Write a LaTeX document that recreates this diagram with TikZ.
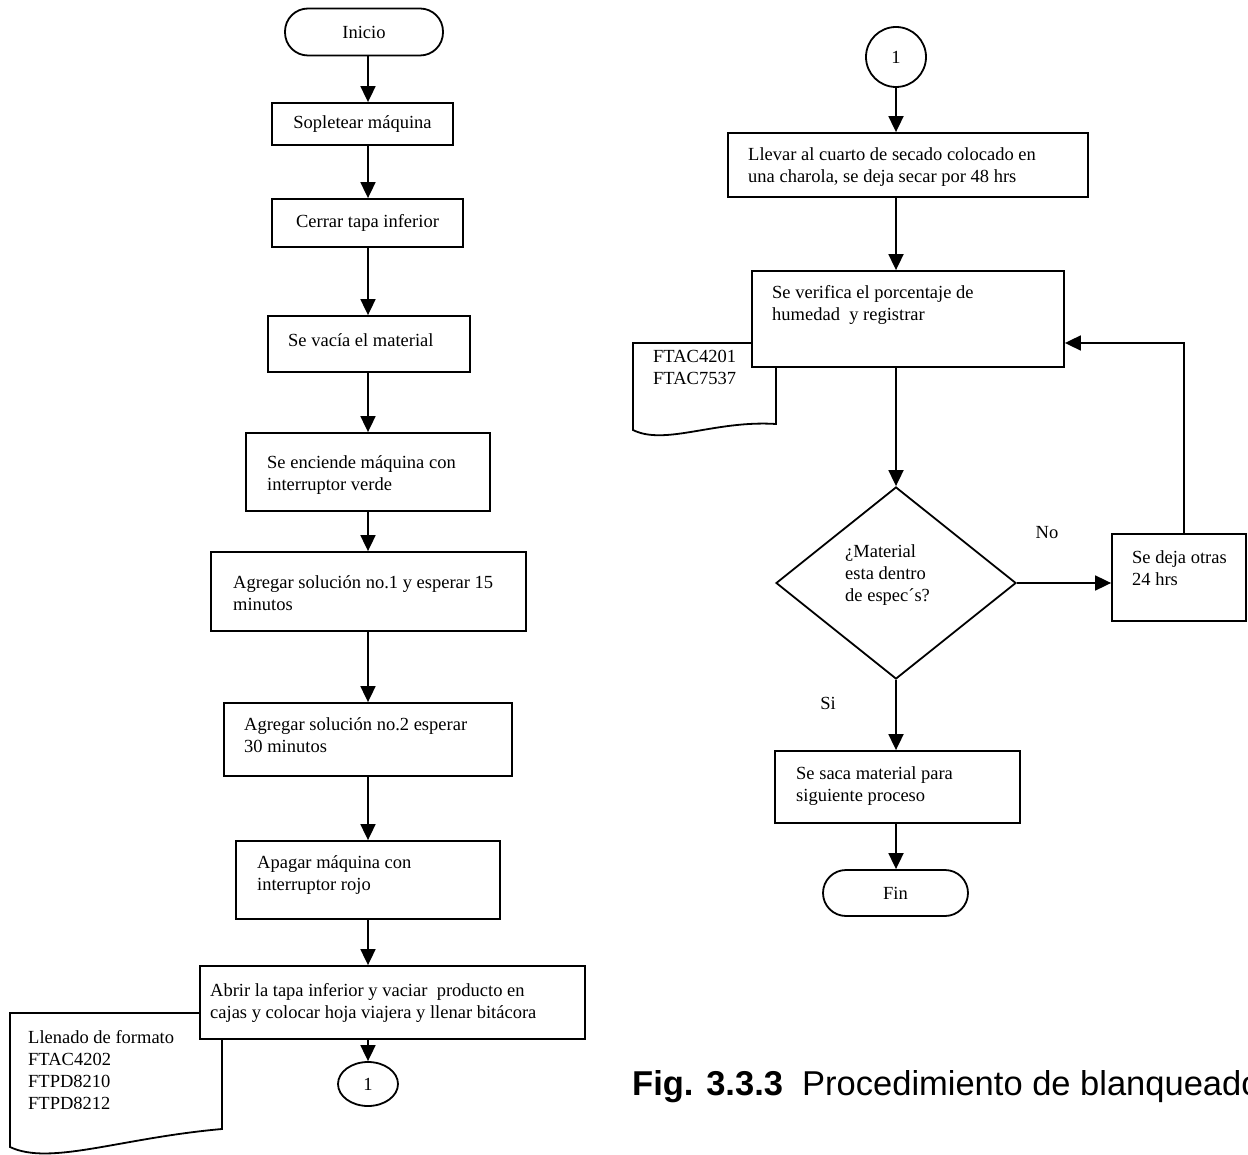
\documentclass[tikz,border=0pt]{standalone}
\usepackage{fontspec}
\setmainfont{Liberation Serif}
\newfontfamily\capfont{Liberation Sans}
\usetikzlibrary{arrows.meta,shapes.geometric}
\begin{document}
\begin{tikzpicture}[x=1pt,y=-1pt,
  every node/.style={font=\fontsize{18.5}{22}\selectfont},
  stepbox/.style={draw, line width=1.8pt, fill=white, inner sep=0pt},
  term/.style={stepbox, rounded corners=23pt},
  conn/.style={draw, line width=1.8pt, fill=white, inner sep=0pt},
  txt/.style={anchor=base west, inner sep=0pt, align=left},
  flow/.style={line width=1.8pt, -{Triangle[length=16pt,width=15pt]}},
  docshape/.style={draw, line width=1.8pt, line join=miter},
]
\useasboundingbox (0,0) rectangle (1248,1155);

% column guides (multi-line labels are placed by their last baseline)
\coordinate (colL) at (368,0);
\coordinate (colR) at (896,0);
\coordinate (loop) at (1184,343);

% ---------------- left column ----------------
\node[term, minimum width=158pt, minimum height=47pt] (ini) at (364,32) {Inicio};
\node[stepbox, minimum width=181pt, minimum height=42pt] (sop) at (362.5,124) {Sopletear máquina};
\node[stepbox, minimum width=191pt, minimum height=48pt] (cer) at (367.5,223) {Cerrar tapa inferior};
\node[stepbox, minimum width=202pt, minimum height=56pt] (vac) at (369,344) {};
\node[txt] (vact) at (288,347) {Se vacía el material};
\node[stepbox, minimum width=244pt, minimum height=78pt] (enc) at (368,472) {};
\node[txt] (enct) at (267,490) {Se enciende máquina con\\interruptor verde};
\node[stepbox, minimum width=315pt, minimum height=79pt] (ag1) at (368.5,591.5) {};
\node[txt] (ag1t) at (233,610) {Agregar solución no.1 y esperar 15\\minutos};
\node[stepbox, minimum width=288pt, minimum height=73pt] (ag2) at (368,739.5) {};
\node[txt] (ag2t) at (244,752) {Agregar solución no.2 esperar\\30 minutos};
\node[stepbox, minimum width=264pt, minimum height=78pt] (apa) at (368,880) {};
\node[txt] (apat) at (257,890) {Apagar máquina con\\interruptor rojo};

% document symbol partly behind the last box
\draw[docshape] (10,1013) -- (222,1013) -- (222,1129)
   .. controls (120,1138) and (50,1166) .. (10,1147) -- cycle;
\node[txt] (fmt) at (28,1109) {Llenado de formato\\FTAC4202\\FTPD8210\\FTPD8212};

\node[stepbox, minimum width=385pt, minimum height=73pt] (abr) at (392.5,1002.5) {};
\node[txt] (abrt) at (210,1018) {Abrir la tapa inferior y vaciar\ \ producto en\\cajas y colocar hoja viajera y llenar bitácora};
\node[conn, ellipse, minimum width=60pt, minimum height=44pt] (c1a) at (368,1084) {1};

\draw[flow] (ini.south -| colL) -- (sop.north -| colL);
\draw[flow] (sop.south -| colL) -- (cer.north -| colL);
\draw[flow] (cer.south -| colL) -- (vac.north -| colL);
\draw[flow] (vac.south -| colL) -- (enc.north -| colL);
\draw[flow] (enc.south -| colL) -- (ag1.north -| colL);
\draw[flow] (ag1.south -| colL) -- (ag2.north -| colL);
\draw[flow] (ag2.south -| colL) -- (apa.north -| colL);
\draw[flow] (apa.south -| colL) -- (abr.north -| colL);
\draw[flow] (abr.south -| colL) -- (c1a.north);

% ---------------- right column ----------------
\node[conn, circle, minimum size=60pt] (c1b) at (896,57) {1};
\node[stepbox, minimum width=360pt, minimum height=64pt] (lle) at (908,165) {};
\node[txt] (llet) at (748,183) {Llevar al cuarto de secado colocado en\\una charola, se deja secar por 48 hrs};

\draw[docshape] (633,343) -- (776,343) -- (776,424)
   .. controls (715,420) and (665,446) .. (633,430) -- cycle;
\node[txt] (regt) at (653,385) {FTAC4201\\FTAC7537};

\node[stepbox, minimum width=312pt, minimum height=96pt] (ver) at (908,319) {};
\node[txt] (vert) at (772,321) {Se verifica el porcentaje de\\humedad\ \ y registrar};

\node[stepbox, diamond, minimum width=240pt, minimum height=192pt] (dia) at (896,583) {};
\node[txt] (diat) at (845,601) {¿Material\\esta dentro\\de espec´s?};

\node[stepbox, minimum width=134pt, minimum height=87pt] (deja) at (1179,577.5) {};
\node[txt] (dejat) at (1132,585) {Se deja otras\\24 hrs};

\node[stepbox, minimum width=245pt, minimum height=72pt] (saca) at (897.5,787) {};
\node[txt] (sacat) at (796,801) {Se saca material para\\siguiente proceso};
\node[term, minimum width=145pt, minimum height=46pt] (fin) at (895.5,893) {Fin};

\node (no) at (1047,533) {No};
\node (si) at (828,703) {Si};

\draw[flow] (c1b.south) -- (lle.north -| colR);
\draw[flow] (lle.south -| colR) -- (ver.north -| colR);
\draw[flow] (ver.south -| colR) -- (dia.north);
\draw[flow] (dia.east) -- (deja.west |- dia.east);
\draw[flow] (deja.north -| loop) |- (ver.east |- loop);
\draw[flow] (dia.south) -- (saca.north -| colR);
\draw[flow] (saca.south -| colR) -- (fin.north -| colR);

% caption
\node[anchor=base west, inner sep=0pt, font=\capfont\fontsize{34.5}{41}\selectfont] (cap) at (632,1095)
  {\textbf{Fig. 3.3.3}\ \ Procedimiento de blanqueado};
\end{tikzpicture}
\end{document}
